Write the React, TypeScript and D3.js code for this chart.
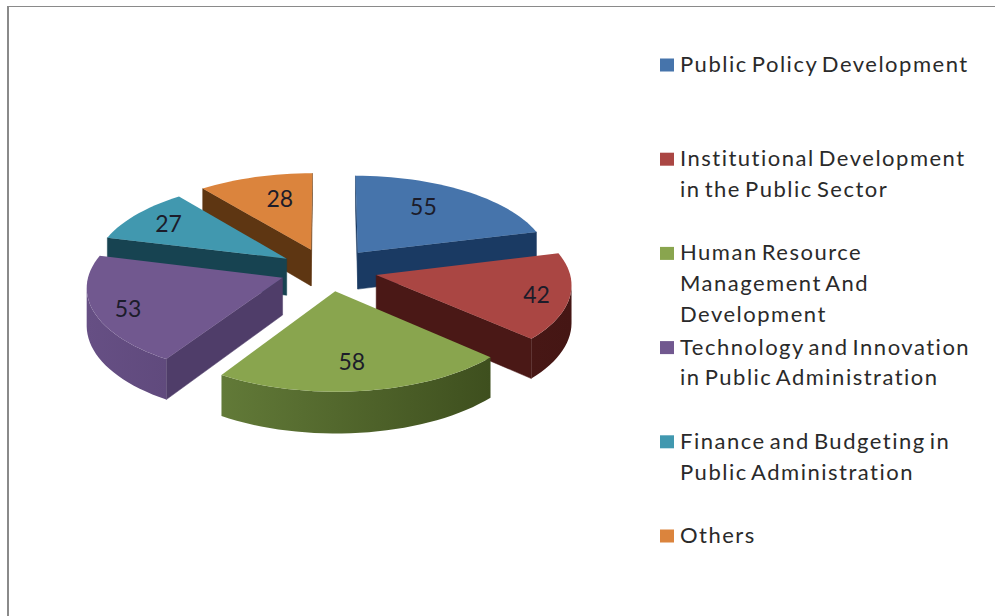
import React from 'react';
import * as d3 from 'd3';

const categories = [
  ['Public Policy Development'],
  ['Institutional Development', 'in the Public Sector'],
  ['Human Resource', 'Management And', 'Development'],
  ['Technology and Innovation', 'in Public Administration'],
  ['Finance and Budgeting in', 'Public Administration'],
  ['Others'],
];
const values = [55, 42, 58, 53, 27, 28];

const topColors = ['#4674AB', '#AA4643', '#89A54E', '#71588F', '#4198AF', '#DB843D'];
const wallDark = ['#17365C', '#451614', '#364618', '#4C3A66', '#174351', '#5E3612'];
const wallLight = ['#1E4272', '#521C1A', '#6F8A42', '#664F84', '#1B4C5C', '#6A3E16'];
const radialWall = ['#1A3A63', '#4A1816', '#3C4C1D', '#4F3D69', '#174351', '#5E3612'];
const drawOrder = [5, 0, 4, 1, 3, 2];
const labelRX = [0.61, 0.83, 0.58, 0.82, 0.78, 0.55];
const labelRY = [0.74, 0.88, 0.72, 0.9, 0.8, 0.69];
const nudgeX = [0, 1, -1, -4, -5, -4];
const nudgeY = [1, 2, 2, 2, 2, 1];

const W = 995, H = 616;
const cx = 330, cy = 268, A = 193, B = 87, K = 0.093, E = 0.24, DEPTH = 37;

const project = (X: number, Y: number, h = 0): [number, number] => {
  const w = 1 - K * Y;
  return [cx + (A * X) / w, cy + (B * Y + h) / w];
};

const pieArcs = d3.pie<number>().sort(null)(values);
const line = d3.line();

function Slice({ i }: { i: number }) {
  const arc = pieArcs[i];
  const mid = (arc.startAngle + arc.endAngle) / 2;
  const ex = Math.sin(mid) * E, ey = -Math.cos(mid) * E;
  const n = Math.max(8, Math.round((arc.endAngle - arc.startAngle) * 24));
  const angles = d3.range(n + 1).map((j) => arc.startAngle + ((arc.endAngle - arc.startAngle) * j) / n);
  const ground = (t: number, r: number) => [ex + r * Math.sin(t), ey - r * Math.cos(t)] as [number, number];
  const apexG: [number, number] = [ex, ey];
  const rimG = angles.map((t) => ground(t, 1));
  const outline = [apexG, ...rimG].map((g) => project(g[0], g[1]));
  const shade = d3.scaleLinear<string>().domain([1, -1]).range([wallDark[i], wallLight[i]]).interpolate(d3.interpolateRgb);

  const quad = (a: [number, number], b: [number, number]) =>
    line([project(a[0], a[1]), project(b[0], b[1]), project(b[0], b[1], DEPTH), project(a[0], a[1], DEPTH)]) + 'Z';
  const faces = (a: [number, number], b: [number, number]) => project(b[0], b[1])[0] < project(a[0], a[1])[0];

  const radial = [[apexG, rimG[0]], [rimG[n], apexG]].filter(([a, b]) => faces(a, b));
  // the part of the rim that faces the viewer, as one band with a gradient across it
  const facing = d3.range(n + 1).filter((k) =>
    (k < n && faces(rimG[k], rimG[k + 1])) || (k > 0 && faces(rimG[k - 1], rimG[k])));
  const bandTop = facing.map((k) => project(rimG[k][0], rimG[k][1]));
  const bandBottom = facing.map((k) => project(rimG[k][0], rimG[k][1], DEPTH)).reverse();
  const gid = `wall-${i}`;
  const xs = bandTop.map((p) => p[0]);
  const x1 = d3.min(xs) ?? 0, x2 = d3.max(xs) ?? 1;
  const leftK = facing.length ? facing[facing.length - 1] : 0;
  const rightK = facing.length ? facing[0] : 0;
  return (
    <g transform={`translate(${nudgeX[i]},${nudgeY[i]})`}>
      {radial.map(([a, b], k) => (
        <path key={k} d={quad(a, b)} fill={radialWall[i]} stroke={radialWall[i]} strokeWidth={0.5} />
      ))}
      {facing.length > 1 && (
        <>
          <linearGradient id={gid} gradientUnits="userSpaceOnUse" x1={x1} x2={x2} y1={0} y2={0}>
            <stop offset="0" stopColor={shade(Math.sin(angles[leftK]))} />
            <stop offset="1" stopColor={shade(Math.sin(angles[rightK]))} />
          </linearGradient>
          <path d={line([...bandTop, ...bandBottom]) + 'Z'} fill={`url(#${gid})`} />
        </>
      )}
      <path d={line(outline) + 'Z'} fill={topColors[i]} />
    </g>
  );
}

export default function App() {
  const legendX = 680;
  return (
    <svg width={W} height={H} viewBox={`0 0 ${W} ${H}`} style={{ position: 'absolute', left: 0, top: 0, display: 'block', background: '#fff' }}>
      <line x1={7} x2={W} y1={6.5} y2={6.5} stroke="#8a8a8a" strokeWidth={1} />
      <line x1={8} x2={8} y1={6} y2={H} stroke="#8a8a8a" strokeWidth={2} />
      {drawOrder.map((i) => <Slice key={i} i={i} />)}
      {pieArcs.map((arc, i) => {
        const mid = (arc.startAngle + arc.endAngle) / 2;
        const ex = Math.sin(mid) * E, ey = -Math.cos(mid) * E;
        const [x, y] = project(ex + labelRX[i] * Math.sin(mid), ey - labelRY[i] * Math.cos(mid));
        return (
          <text key={i} x={x + nudgeX[i]} y={y + nudgeY[i]} textAnchor="middle" dominantBaseline="central" fontFamily="Lato, sans-serif" fontSize={23} fill="#1c1c2a">
            {values[i]}
          </text>
        );
      })}
      {categories.map((lines, i) => {
        const y0 = 65 + 94.2 * i;
        return (
          <g key={i}>
            <rect x={660} y={y0 - 6.5} width={14} height={13} fill={topColors[i]} />
            {lines.map((t, j) => (
              <text key={j} x={legendX} y={y0 + 7 + 30.8 * j} fontFamily="Lato, sans-serif" fontSize={22} letterSpacing={1.5} wordSpacing={-3} fill="#2a2a2a">
                {t}
              </text>
            ))}
          </g>
        );
      })}
    </svg>
  );
}
